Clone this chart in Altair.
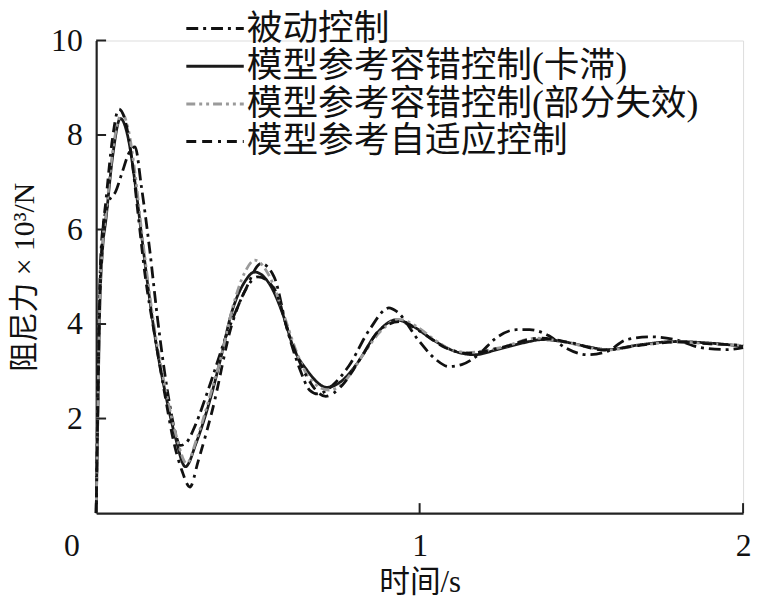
import altair as alt
import pandas as pd

# ---------------- data ----------------
series_names = ["被动控制", "模型参考容错控制(卡滞)", "模型参考容错控制(部分失效)", "模型参考自适应控制"]

x_passive = [0, 0.005, 0.01, 0.02, 0.04, 0.06, 0.08, 0.1, 0.12, 0.14, 0.165, 0.19, 0.22, 0.245, 0.26,
             0.28, 0.306, 0.346, 0.41, 0.46, 0.51, 0.55, 0.59, 0.63, 0.66, 0.685, 0.73, 0.78, 0.845,
             0.905, 0.93, 0.995, 1.05, 1.09, 1.13, 1.19, 1.23, 1.3, 1.34, 1.4, 1.45, 1.52, 1.58, 1.64,
             1.715, 1.79, 1.87, 1.95, 2.0]
y_passive = [0, 2.5, 4.5, 6.0, 6.6, 6.8, 7.2, 7.6, 7.75, 6.9, 5.6, 4.1, 2.6, 1.7, 1.43,
             1.5, 1.85, 2.6, 3.9, 4.7, 5.28, 5.0, 3.9, 3.04, 2.6, 2.52, 2.7, 3.1, 3.88,
             4.34, 4.26, 3.67, 3.25, 3.1, 3.14, 3.4, 3.67, 3.88, 3.88, 3.75, 3.5, 3.35, 3.42, 3.67,
             3.73, 3.67, 3.5, 3.46, 3.5]

x_stuck = [0, 0.005, 0.01, 0.02, 0.03, 0.05, 0.075, 0.1, 0.12, 0.14, 0.16, 0.185, 0.215, 0.245, 0.276,
           0.31, 0.355, 0.386, 0.417, 0.46, 0.49, 0.54, 0.58, 0.61, 0.65, 0.714, 0.76, 0.805, 0.867,
           0.928, 0.98, 1.04, 1.11, 1.17, 1.24, 1.32, 1.38, 1.45, 1.52, 1.58, 1.68, 1.79, 1.89, 2.0]
y_stuck = [0, 2.0, 4.0, 5.6, 6.2, 7.5, 8.35, 7.9, 7.0, 5.9, 4.8, 3.6, 2.5, 1.6, 0.98,
           1.5, 2.47, 3.3, 4.2, 4.9, 5.1, 4.8, 4.15, 3.5, 3.04, 2.66, 2.8, 3.15, 3.8,
           4.09, 3.95, 3.67, 3.42, 3.35, 3.46, 3.6, 3.67, 3.62, 3.52, 3.46, 3.56, 3.63, 3.6, 3.53]

x_partial = [0, 0.005, 0.01, 0.02, 0.03, 0.05, 0.08, 0.1, 0.12, 0.14, 0.16, 0.185, 0.215, 0.245, 0.28,
             0.31, 0.355, 0.39, 0.42, 0.46, 0.49, 0.54, 0.58, 0.62, 0.66, 0.72, 0.77, 0.82, 0.88,
             0.935, 0.99, 1.05, 1.1, 1.15, 1.25, 1.36, 1.46, 1.58, 1.68, 1.8, 1.9, 2.0]
y_partial = [0, 2.1, 4.1, 5.7, 6.3, 7.6, 8.45, 8.1, 7.2, 6.0, 4.9, 3.7, 2.6, 1.7, 1.05,
             1.55, 2.55, 3.4, 4.3, 5.1, 5.35, 4.95, 4.2, 3.4, 2.85, 2.6, 2.8, 3.3, 3.85,
             4.1, 3.95, 3.65, 3.45, 3.4, 3.5, 3.7, 3.6, 3.45, 3.55, 3.62, 3.58, 3.55]

x_adapt = [0, 0.005, 0.01, 0.02, 0.03, 0.05, 0.07, 0.09, 0.11, 0.13, 0.15, 0.18, 0.21, 0.24, 0.265,
           0.29, 0.315, 0.36, 0.42, 0.46, 0.5, 0.55, 0.6, 0.65, 0.71, 0.76, 0.82, 0.88, 0.94,
           1.0, 1.08, 1.15, 1.25, 1.37, 1.47, 1.57, 1.68, 1.8, 1.9, 2.0]
y_adapt = [0, 2.2, 4.3, 5.9, 6.6, 7.9, 8.55, 8.3, 7.5, 6.3, 5.1, 3.8, 2.6, 1.5, 0.9,
           0.55, 1.09, 2.2, 4.0, 4.7, 5.0, 4.75, 3.7, 2.9, 2.47, 2.7, 3.3, 3.9, 4.05,
           3.85, 3.5, 3.38, 3.5, 3.7, 3.6, 3.45, 3.55, 3.62, 3.58, 3.55]

y_tick_values = [2, 4, 6, 8, 10]
x_tick_values = [0, 1, 2]
x_inner_ticks = [1, 2]

series_colors = ["#111111", "#1a1a1a", "#9a9a9a", "#111111"]
series_dashes = [[12, 5, 3, 5], [1, 0], [9, 4, 3, 4, 3, 4], [10, 6, 10, 6, 3, 6]]

rows = []
for name, xs, ys in [
    (series_names[0], x_passive, y_passive),
    (series_names[1], x_stuck, y_stuck),
    (series_names[2], x_partial, y_partial),
    (series_names[3], x_adapt, y_adapt),
]:
    for i, (a, b) in enumerate(zip(xs, ys)):
        rows.append({"t": a, "F": b, "series": name, "i": i})
df = pd.DataFrame(rows)

W, H = 653, 477
num_font = "Liberation Serif, serif"
title_font = "Liberation Serif, Noto Sans CJK SC, serif"
cjk_font = "Liberation Serif, Noto Sans CJK SC, serif"

xscale = alt.Scale(domain=[0, 2], nice=False, zero=False)
yscale = alt.Scale(domain=[0, 10], nice=False, zero=False)

lines = alt.Chart(df).mark_line(strokeWidth=2.8, interpolate="monotone").encode(
    x=alt.X("t:Q", scale=xscale,
            axis=alt.Axis(values=x_tick_values, labelExpr="'' + datum.value", title="时间/s",
                          grid=False, tickSize=0,
                          domainColor="#222", domainWidth=2.2, labelOverlap=False,
                          labelFont=num_font, labelFontSize=32, labelColor="#111",
                          labelPadding=33, labelBaseline="middle",
                          labelOffset={"condition": {"test": "datum.value === 0", "value": -25}, "value": 0},
                          labelFlush=False,
                          titleFont=title_font, titleFontSize=31, titleFontWeight="normal",
                          titleColor="#111", titleY=70, titleBaseline="middle")),
    y=alt.Y("F:Q", scale=yscale,
            axis=alt.Axis(values=y_tick_values, labelExpr="'' + datum.value", title="阻尼力 × 10³/N",
                          grid=False, tickSize=0,
                          domainColor="#222", domainWidth=2.2, labelOverlap=False,
                          labelFont=num_font, labelFontSize=32, labelColor="#111",
                          labelPadding=14, labelBaseline="middle", labelFlush=False,
                          titleFont=title_font, titleFontSize=30, titleFontWeight="normal",
                          titleColor="#111", titleX=-72, titleY=H / 2, titleAngle=-90,
                          titleAlign="center", titleBaseline="middle")),
    color=alt.Color("series:N",
                    scale=alt.Scale(domain=series_names, range=series_colors),
                    legend=alt.Legend(title=None, orient="none", legendX=102, legendY=-30,
                                      symbolType="M-2.9,0H2.9", symbolSize=400,
                                      symbolStrokeWidth=3, labelOffset=14,
                                      labelFont=cjk_font, labelFontSize=36, labelColor="#111",
                                      rowPadding=2, labelLimit=600)),
    strokeDash=alt.StrokeDash("series:N",
                              scale=alt.Scale(domain=series_names, range=series_dashes),
                              legend=None),
    order="i:Q",
)

ytick_df = pd.DataFrame({"v": y_tick_values})
yticks = alt.Chart(ytick_df).mark_rule(color="#222", strokeWidth=2).encode(
    y=alt.Y("v:Q", scale=yscale), x=alt.value(0), x2=alt.value(10)
)
xtick_df = pd.DataFrame({"v": x_inner_ticks})
xticks = alt.Chart(xtick_df).mark_rule(color="#222", strokeWidth=2).encode(
    x=alt.X("v:Q", scale=xscale), y=alt.value(H), y2=alt.value(H - 10)
)

chart = alt.layer(lines, yticks, xticks).properties(
    width=W, height=H,
    autosize=alt.AutoSizeParams(type="none"),
    padding={"left": 89, "top": 30, "right": 8, "bottom": 88},
).configure_view(stroke=None).configure(background="white")

chart.save("out.html", embed_options={"renderer": "svg", "actions": False})
